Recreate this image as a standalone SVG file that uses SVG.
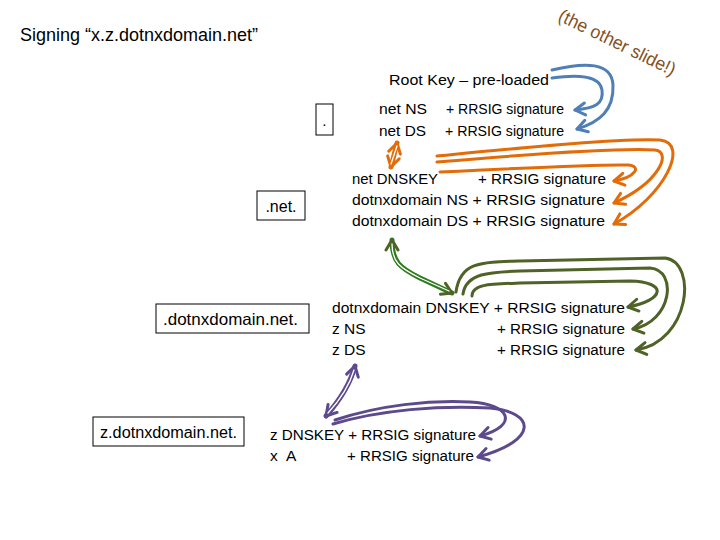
<svg xmlns="http://www.w3.org/2000/svg" width="720" height="540" viewBox="0 0 720 540">
<style>
.t{font-family:"Liberation Sans",Arial,sans-serif;fill:#000}
.s{font-size:15px}
.m{font-size:15.5px}
.box{fill:#fff;stroke:#000;stroke-width:1}
.c{fill:none;stroke-width:3;stroke-linecap:round;stroke-linejoin:round}
.w{fill:none;stroke:#fff;stroke-width:1.3;stroke-linecap:round}
.blue{stroke:#4f7fb5}
.orange{stroke:#e36c0a}
.olive{stroke:#4f6228}
.green{stroke:#2e7a1e}
.purple{stroke:#5d4a8c}
</style>
<defs>
<marker id="ab" markerUnits="userSpaceOnUse" viewBox="-12 -8 14 16" refX="0" refY="0" markerWidth="14" markerHeight="16" orient="auto-start-reverse"><path d="M-10,-6 L0,0 L-10,6" fill="none" stroke="#4f7fb5" stroke-width="3" stroke-linecap="round" stroke-linejoin="round"/></marker>
<marker id="ao" markerUnits="userSpaceOnUse" viewBox="-12 -8 14 16" refX="0" refY="0" markerWidth="14" markerHeight="16" orient="auto-start-reverse"><path d="M-10,-6 L0,0 L-10,6" fill="none" stroke="#e36c0a" stroke-width="3" stroke-linecap="round" stroke-linejoin="round"/></marker>
<marker id="al" markerUnits="userSpaceOnUse" viewBox="-12 -8 14 16" refX="0" refY="0" markerWidth="14" markerHeight="16" orient="auto-start-reverse"><path d="M-10,-6 L0,0 L-10,6" fill="none" stroke="#4f6228" stroke-width="3" stroke-linecap="round" stroke-linejoin="round"/></marker>
<marker id="ag" markerUnits="userSpaceOnUse" viewBox="-12 -8 14 16" refX="0" refY="0" markerWidth="14" markerHeight="16" orient="auto-start-reverse"><path d="M-10,-6 L0,0 L-10,6" fill="none" stroke="#4f6228" stroke-width="3" stroke-linecap="round" stroke-linejoin="round"/></marker>
<marker id="ap" markerUnits="userSpaceOnUse" viewBox="-12 -8 14 16" refX="0" refY="0" markerWidth="14" markerHeight="16" orient="auto-start-reverse"><path d="M-10,-6 L0,0 L-10,6" fill="none" stroke="#5d4a8c" stroke-width="3" stroke-linecap="round" stroke-linejoin="round"/></marker>
</defs>
<rect width="720" height="540" fill="#fff"/>

<text class="t" x="20" y="41" font-size="17.5" textLength="238" lengthAdjust="spacingAndGlyphs">Signing “x.z.dotnxdomain.net”</text>
<text class="t" font-size="18.5" style="fill:#85531f" transform="translate(557,20) rotate(26)" textLength="128" lengthAdjust="spacingAndGlyphs">(the other slide!)</text>

<g id="root">
<rect class="box" x="316" y="104" width="17" height="31"/>
<text class="t m" x="324.5" y="126" text-anchor="middle">.</text>
<text class="t m" x="389" y="85" textLength="160" lengthAdjust="spacingAndGlyphs">Root Key – pre-loaded</text>
<text class="t s" x="379" y="114" textLength="48" lengthAdjust="spacingAndGlyphs">net NS</text>
<text class="t s" x="446" y="114" textLength="118" lengthAdjust="spacingAndGlyphs">+ RRSIG signature</text>
<text class="t s" x="379" y="136" textLength="47" lengthAdjust="spacingAndGlyphs">net DS</text>
<text class="t s" x="445" y="136" textLength="119" lengthAdjust="spacingAndGlyphs">+ RRSIG signature</text>
</g>

<g id="net">
<rect class="box" x="257" y="191" width="48" height="29"/>
<text class="t" x="281" y="212" font-size="16" text-anchor="middle">.net.</text>
<text class="t m" x="352" y="184" textLength="86" lengthAdjust="spacingAndGlyphs">net DNSKEY</text>
<text class="t m" x="478" y="184" textLength="128" lengthAdjust="spacingAndGlyphs">+ RRSIG signature</text>
<text class="t m" x="352" y="205" textLength="253" lengthAdjust="spacingAndGlyphs">dotnxdomain NS + RRSIG signature</text>
<text class="t m" x="352" y="226" textLength="253" lengthAdjust="spacingAndGlyphs">dotnxdomain DS + RRSIG signature</text>
</g>

<g id="dotnxdomain">
<rect class="box" x="156" y="304" width="153" height="29"/>
<text class="t" x="163" y="325" font-size="16.5" textLength="135" lengthAdjust="spacingAndGlyphs">.dotnxdomain.net.</text>
<text class="t m" x="332" y="313" textLength="293" lengthAdjust="spacingAndGlyphs">dotnxdomain DNSKEY + RRSIG signature</text>
<text class="t m" x="332" y="334">z NS</text>
<text class="t m" x="497" y="334" textLength="128" lengthAdjust="spacingAndGlyphs">+ RRSIG signature</text>
<text class="t m" x="332" y="355">z DS</text>
<text class="t m" x="497" y="355" textLength="128" lengthAdjust="spacingAndGlyphs">+ RRSIG signature</text>
</g>

<g id="z">
<rect class="box" x="93" y="417" width="151" height="29"/>
<text class="t" x="168.5" y="438" font-size="16" text-anchor="middle" textLength="137" lengthAdjust="spacingAndGlyphs">z.dotnxdomain.net.</text>
<text class="t m" x="270" y="440" textLength="206" lengthAdjust="spacingAndGlyphs">z DNSKEY + RRSIG signature</text>
<text class="t m" x="270" y="461">x</text>
<text class="t m" x="286" y="461">A</text>
<text class="t m" x="347" y="461" textLength="127" lengthAdjust="spacingAndGlyphs">+ RRSIG signature</text>
</g>

<g id="connectors">
<path class="c blue" d="M552,78 C580,74 600,76 602,90 C604,104 595,108 575,110" marker-end="url(#ab)"/>
<path class="c blue" d="M552,70 C585,62 612,62 613,85 C614,110 600,122 577,129" marker-end="url(#ab)"/>

<path class="c orange" style="stroke-width:5" d="M397,143 L391,167" marker-start="url(#ao)" marker-end="url(#ao)"/>
<path class="w" d="M397,146 L391,164"/>
<path class="c orange" d="M440,172 C520,168 600,164 628,165 C642,166 636,177 614,181" marker-end="url(#ao)"/>
<path class="c orange" d="M437,162 C520,155 620,148 655,150 C672,152 660,182 614,203" marker-end="url(#ao)"/>
<path class="c orange" d="M437,156 C520,148 620,138 660,140 C690,143 665,196 614,224" marker-end="url(#ao)"/>

<path class="c green" style="stroke-width:5" d="M392,240 C392,262 400,268 420,278 L452,293" marker-start="url(#ag)" marker-end="url(#ag)"/>
<path class="w" d="M392,244 C392,262 400,268 420,278 L449,291"/>
<path class="c olive" d="M472,296 C472,284 490,284 520,283 L630,281 C668,282 665,300 628,307" marker-end="url(#al)"/>
<path class="c olive" d="M463,294 C466,273 490,272 520,271 L650,268 C678,270 672,322 633,329" marker-end="url(#al)"/>
<path class="c olive" d="M456,292 C460,262 480,262 520,261 L665,258 C698,262 690,342 636,350" marker-end="url(#al)"/>

<path class="c purple" style="stroke-width:5" d="M355,366 C350,385 340,400 326,416" marker-start="url(#ap)" marker-end="url(#ap)"/>
<path class="w" d="M354,370 C349,387 339,401 328,413"/>
<path class="c purple" d="M335,420 C380,405 430,400 470,402 C510,404 520,425 480,436" marker-end="url(#ap)"/>
<path class="c purple" d="M333,424 C380,410 440,405 490,408 C535,412 540,440 478,457" marker-end="url(#ap)"/>
</g>
</svg>
